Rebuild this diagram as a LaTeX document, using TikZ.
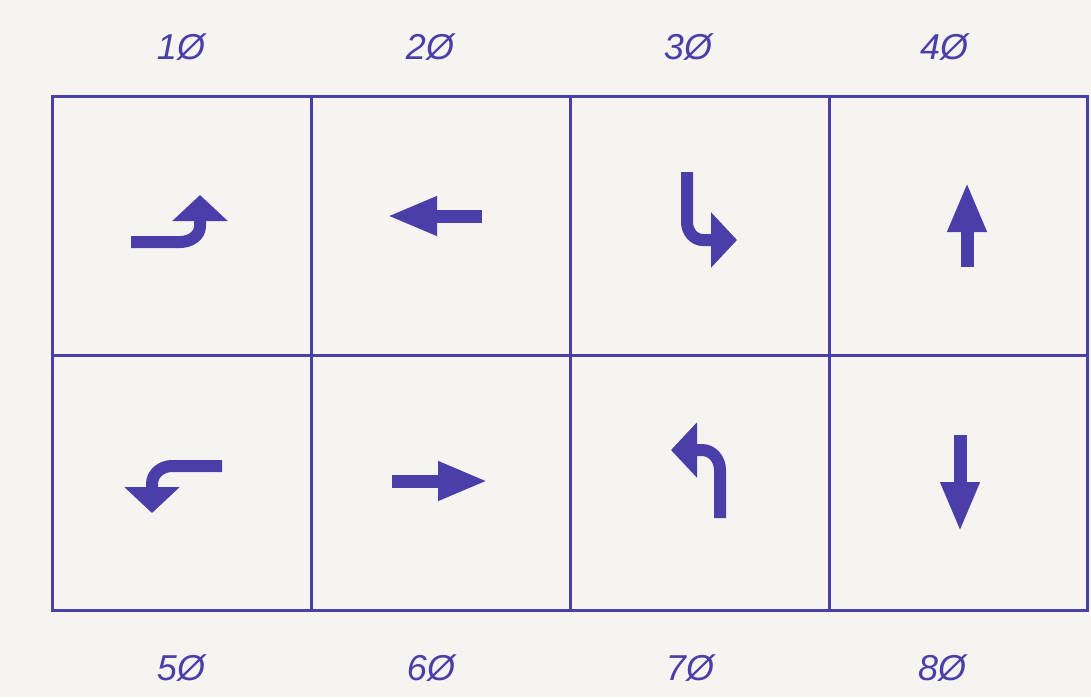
\documentclass[tikz,border=0pt]{standalone}
\usepackage{fontspec}
\setmainfont{Liberation Sans}
\usetikzlibrary{arrows.meta}
\definecolor{ink}{RGB}{74,62,168}
\definecolor{paper}{RGB}{245,244,240}
\tikzset{
  gridline/.style={ink, line width=1.5pt},
  straightarrow/.style={ink, line width=6.5pt, -{Triangle[length=25pt,width=18pt]}},
  turnarrow/.style={ink, line width=6pt, -{Triangle[length=13pt,width=27pt]}},
  phase/.style={ink, font=\fontsize{18}{18}\selectfont\itshape}
}
\begin{document}
\begin{tikzpicture}[x=0.5pt,y=-0.5pt]
\fill[paper] (0,0) rectangle (1091,697);
\useasboundingbox (0,0) rectangle (1091,697);

% grid of phases
\draw[gridline] (52,96) rectangle (1087,610);
\draw[gridline] (52,355) -- (1087,355);
\draw[gridline] (311,96) -- (311,610);
\draw[gridline] (570,96) -- (570,610);
\draw[gridline] (829,96) -- (829,610);

% phase numbers
\foreach \n/\x/\y in {
1/181/47, 2/430/47, 3/688/47, 4/944/47,
5/181/668, 6/431/668, 7/690/668, 8/942/668}
{
    \node[phase] (p\n) at (\x,\y) {\n Ø};
}

% movements
\draw[turnarrow] (131,242) -- (180,242) to[out=0,in=-90] (200,226) -- (200,195);
\draw[straightarrow] (482,216) -- (387,216);
\draw[turnarrow] (687,172) -- (687,222) to[out=-90,in=180] (703,240) -- (737,240);
\draw[straightarrow] (967,267) -- (967,182);
\draw[turnarrow] (222,466) -- (172,466) to[out=180,in=90] (152,484) -- (152,513);
\draw[straightarrow] (392,481) -- (488,481);
\draw[turnarrow] (720,518) -- (720,470) to[out=90,in=0] (702,450) -- (671,450);
\draw[straightarrow] (960,435) -- (960,532);
\end{tikzpicture}
\end{document}
